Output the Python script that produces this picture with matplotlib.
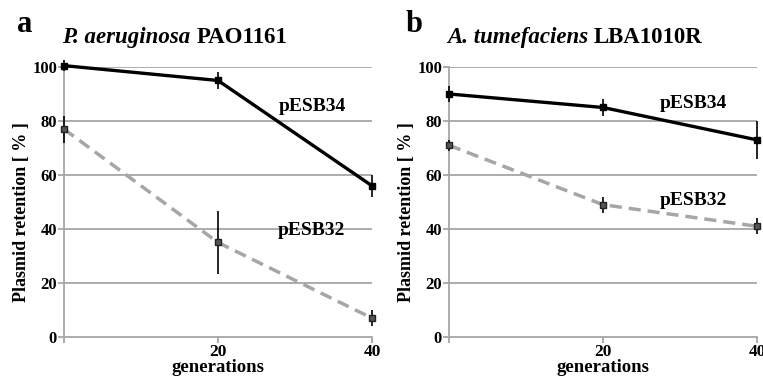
import matplotlib
matplotlib.use('Agg')
import matplotlib.pyplot as plt

# datos
generations = [0, 20, 40]

pao_34 = [100.5, 95, 56]
pao_34_err = [2, 3, 4]
pao_32 = [77, 35, 7]
pao_32_err = [5, 11.5, 3]

lba_34 = [90, 85, 73]
lba_34_err = [3, 3, 7]
lba_32 = [71, 49, 41]
lba_32_err = [2, 3, 3]

plt.rcParams['font.family'] = ['Liberation Serif', 'DejaVu Serif']
plt.rcParams['font.weight'] = 'bold'

GRID = '#a6a6a6'
DASH = '#a6a6a6'

fig = plt.figure(figsize=(7.63, 3.78), dpi=100)


def draw_panel(ax, s34, e34, s32, e32, lab34, lab32):
    ax.set_xlim(0, 40)
    ax.set_ylim(0, 100)
    for y in [20, 40, 60, 80, 100]:
        ax.axhline(y, color=GRID, lw=1.3, zorder=0)
    for s in ['top', 'right']:
        ax.spines[s].set_visible(False)
    for s in ['left', 'bottom']:
        ax.spines[s].set_color(GRID)
        ax.spines[s].set_linewidth(1.3)
    ax.set_xticks([0, 20, 40])
    ax.set_xticklabels(['', '20', '40'])
    ax.set_yticks([0, 20, 40, 60, 80, 100])
    ax.tick_params(axis='x', length=4, width=1.3, color=GRID, labelsize=12.5, pad=1)
    ax.tick_params(axis='y', length=4, width=1.3, color=GRID, labelsize=12, pad=1)

    # pESB32 (gris, discontinua)
    ax.plot(generations, s32, color=DASH, lw=2.5, ls=(0, (3.5, 2)), zorder=2, clip_on=False)
    ax.errorbar(generations, s32, yerr=e32, fmt='s', ms=5, mfc='#555555', mec='#222222',
                ecolor='black', elinewidth=1.2, capsize=0, zorder=3, clip_on=False)
    # pESB34 (negra)
    ax.plot(generations, s34, color='black', lw=2.4, zorder=4, clip_on=False)
    ax.errorbar(generations, s34, yerr=e34, fmt='s', ms=5, mfc='black', mec='black',
                ecolor='black', elinewidth=1.2, capsize=0, zorder=5, clip_on=False)

    ax.text(lab34[0], lab34[1], 'pESB34', ha='center', va='center', fontsize=14, fontweight='bold')
    ax.text(lab32[0], lab32[1], 'pESB32', ha='center', va='center', fontsize=14, fontweight='bold')

    ax.set_xlabel('generations', fontsize=13.5, fontweight='bold', labelpad=-1)
    ax.set_ylabel('Plasmid retention [ % ]', fontsize=13, fontweight='bold')
    ax.yaxis.set_label_coords(-0.11, 0.463)
    return ax


def title(ax, letter, fx, species, strain):
    fig.text(fx, 0.915, letter, fontsize=22, fontweight='bold', va='baseline')
    t = ax.text(-0.005, 1.09, species, transform=ax.transAxes, fontsize=16.5,
                fontweight='bold', fontstyle='italic', va='baseline')
    ax.annotate(strain, xy=(1, 0), xycoords=t, xytext=(4, 0), textcoords='offset points',
                fontsize=16.5, fontweight='bold', va='bottom')


ax1 = fig.add_axes([0.0839, 0.1085, 0.4036, 0.7143])
draw_panel(ax1, pao_34, pao_34_err, pao_32, pao_32_err, (32.2, 85.2), (32.2, 39.6))
title(ax1, 'a', 0.022, 'P. aeruginosa', 'PAO1161')

ax2 = fig.add_axes([0.5885, 0.1085, 0.4036, 0.7143])
draw_panel(ax2, lba_34, lba_34_err, lba_32, lba_32_err, (31.7, 86.3), (31.7, 50.7))
title(ax2, 'b', 0.531, 'A. tumefaciens', 'LBA1010R')

fig.savefig('out.png', dpi=100)
